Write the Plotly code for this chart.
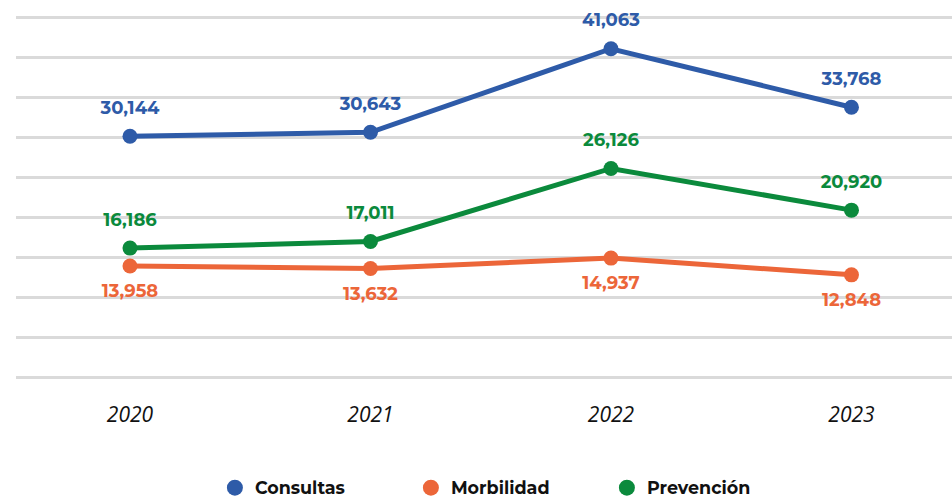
import plotly.graph_objects as go

years = ["2020", "2021", "2022", "2023"]
consultas = [30144, 30643, 41063, 33768]
morbilidad = [13958, 13632, 14937, 12848]
prevencion = [16186, 17011, 26126, 20920]

series = [
    ("Consultas", consultas, "#2E5BA8", "top center"),
    ("Morbilidad", morbilidad, "#EC6639", "bottom center"),
    ("Prevención", prevencion, "#0B8A3C", "top center"),
]

font = "Montserrat, Lato, 'Open Sans', sans-serif"

fig = go.Figure()
for name, vals, color, pos in series:
    fig.add_trace(go.Scatter(
        x=years, y=vals, name=name, mode="lines+markers",
        line=dict(color=color, width=5),
        marker=dict(color=color, size=15),
        showlegend=False, cliponaxis=False, hoverinfo="skip",
    ))
    # value labels: an invisible larger marker pushes the text a little further away
    fig.add_trace(go.Scatter(
        x=years, y=vals, mode="markers+text",
        marker=dict(size=27, opacity=0),
        text=[f"{v:,}" for v in vals], textposition=pos,
        textfont=dict(family=font, size=18, color=color, weight="bold"),
        showlegend=False, cliponaxis=False, hoverinfo="skip",
    ))
# legend entries: circles only
for name, vals, color, pos in series:
    fig.add_trace(go.Scatter(
        x=[None], y=[None], name=name, mode="markers",
        marker=dict(color=color, size=22),
    ))

fig.update_layout(
    width=952, height=499,
    margin=dict(l=16, r=0, t=16, b=120, autoexpand=False),
    plot_bgcolor="white", paper_bgcolor="white",
    font=dict(family=font),
    showlegend=True,
    legend=dict(
        orientation="h", x=0.2125, xanchor="left",
        y=-0.25, yanchor="top",
        entrywidth=151, entrywidthmode="pixels",
        font=dict(family=font, size=17.5, color="#111111", weight="bold"),
        itemwidth=30,
    ),
)
fig.update_xaxes(
    type="category", range=[-0.474, 3.418],
    showgrid=False, zeroline=False, showline=False,
    tickfont=dict(family="'Open Sans', sans-serif", size=21, color="#111111", style="italic"),
    ticks="", ticklabelstandoff=21,
)
fig.update_yaxes(
    range=[-150, 45150], dtick=5000, showticklabels=False,
    showgrid=True, gridcolor="#DADADA", gridwidth=2.5,
    zeroline=True, zerolinecolor="#DADADA", zerolinewidth=2.5, showline=False,
)

fig.write_html("out.html", config={"displayModeBar": False},
               post_script="document.body.style.margin='0';")
